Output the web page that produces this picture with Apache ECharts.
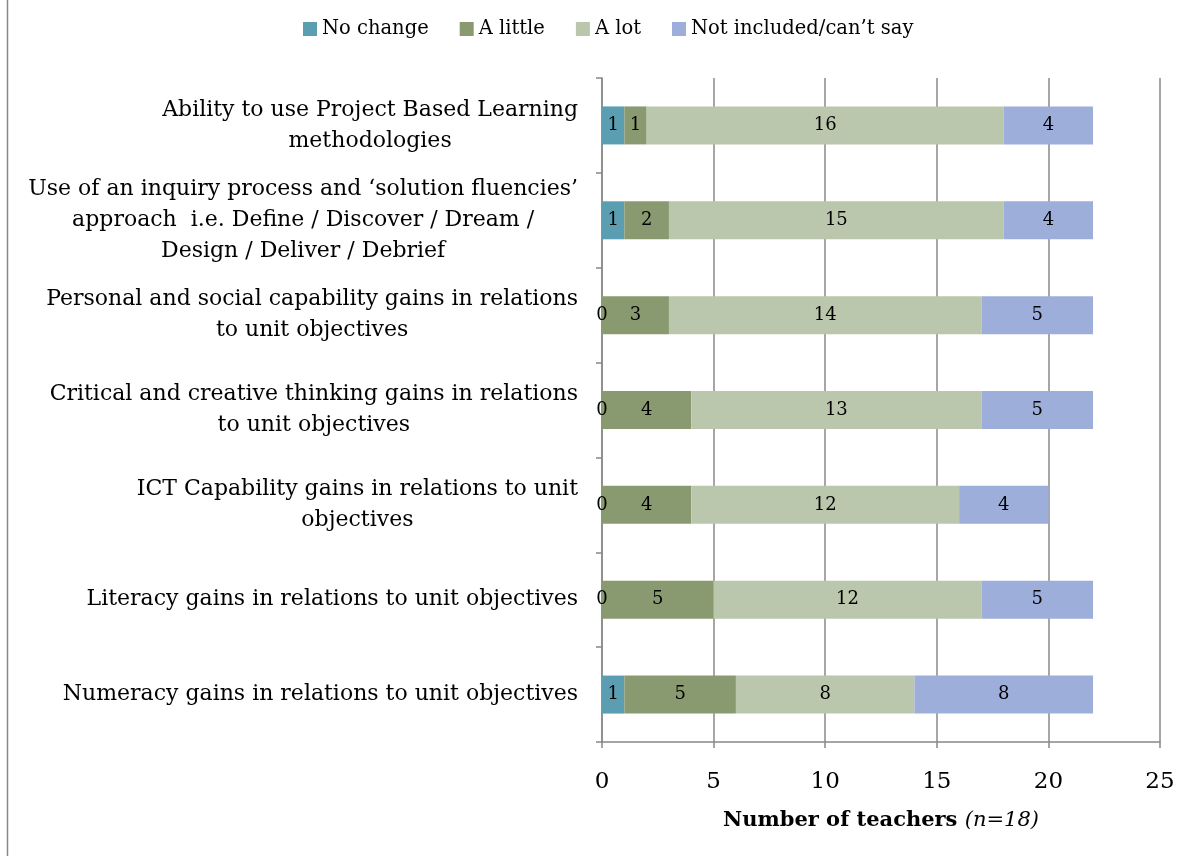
<!DOCTYPE html>
<html>
<head>
<meta charset="utf-8">
<script src="https://cdn.jsdelivr.net/npm/echarts@6/dist/echarts.min.js"></script>
<style>
  html, body { margin: 0; padding: 0; background: #fff; }
  #chart { width: 1189px; height: 856px; }
</style>
</head>
<body>
<div id="chart"></div>
<script>
// Outcome areas, listed top to bottom
const categories = [
  'Ability to use Project Based Learning\nmethodologies',
  'Use of an inquiry process and \u2018solution fluencies\u2019\napproach  i.e. Define / Discover / Dream /\nDesign / Deliver / Debrief',
  'Personal and social capability gains in relations\nto unit objectives',
  'Critical and creative thinking gains in relations\nto unit objectives',
  'ICT Capability gains in relations to unit\nobjectives',
  'Literacy gains in relations to unit objectives',
  'Numeracy gains in relations to unit objectives'
];

const noChange    = [1, 1, 0, 0, 0, 0, 1];
const aLittle     = [1, 2, 3, 4, 4, 5, 5];
const aLot        = [16, 15, 14, 13, 12, 12, 8];
const notIncluded = [4, 4, 5, 5, 4, 5, 8];

const seriesNames = ['No change', 'A little', 'A lot', 'Not included/can\u2019t say'];
const seriesColors = ['#5B9DB1', '#8A9A70', '#BAC7AC', '#9DAEDB'];
const seriesData = [noChange, aLittle, aLot, notIncluded];

const FONT = 'DejaVu Serif';

const chart = echarts.init(document.getElementById('chart'), null, { renderer: 'canvas' });

chart.setOption({
  animation: false,
  backgroundColor: '#fff',
  textStyle: { fontFamily: FONT, color: '#000' },
  graphic: [{
    type: 'line',
    shape: { x1: 7.5, y1: 0, x2: 7.5, y2: 856 },
    style: { stroke: '#888', lineWidth: 1.5 }
  }],
  legend: {
    top: 14,
    left: 298,
    itemWidth: 14,
    itemHeight: 14,
    itemGap: 31,
    icon: 'rect',
    textStyle: { fontFamily: FONT, fontSize: 19.5, color: '#000' },
    data: seriesNames
  },
  grid: { left: 602, right: 29, top: 78, bottom: 114, containLabel: false },
  xAxis: {
    type: 'value',
    min: 0, max: 25, interval: 5,
    axisLine: { show: true, lineStyle: { color: '#888', width: 1.5 } },
    axisTick: { show: true, length: 6, lineStyle: { color: '#888', width: 1.5 } },
    splitLine: { show: true, lineStyle: { color: '#888', width: 1.5 } },
    axisLabel: { fontFamily: FONT, fontSize: 23, color: '#000', margin: 29 },
    name: '{b|Number of teachers }{i|(n=18)}',
    nameLocation: 'middle',
    nameGap: 68,
    nameTextStyle: {
      rich: {
        b: { fontFamily: FONT, fontSize: 21, fontWeight: 'bold', color: '#000' },
        i: { fontFamily: FONT, fontSize: 21, fontStyle: 'italic', color: '#000' }
      }
    }
  },
  yAxis: {
    type: 'category',
    inverse: true,
    data: categories,
    axisLine: { show: true, lineStyle: { color: '#888', width: 1.5 } },
    axisTick: { show: true, length: 6, lineStyle: { color: '#888', width: 1.5 } },
    axisLabel: {
      margin: 24,
      align: 'right',
      formatter: function (v) {
        return v.split('\n').map(function (l) { return '{c|' + l + '}'; }).join('\n');
      },
      rich: {
        c: { fontFamily: FONT, fontSize: 22, color: '#000', align: 'center', lineHeight: 31 }
      }
    }
  },
  series: seriesNames.map(function (name, i) {
    return {
      name: name,
      type: 'bar',
      stack: 'total',
      barWidth: 38,
      itemStyle: { color: seriesColors[i] },
      label: {
        show: true,
        position: 'inside',
        fontFamily: FONT,
        fontSize: 18,
        color: '#000'
      },
      data: seriesData[i]
    };
  })
});
</script>
</body>
</html>
